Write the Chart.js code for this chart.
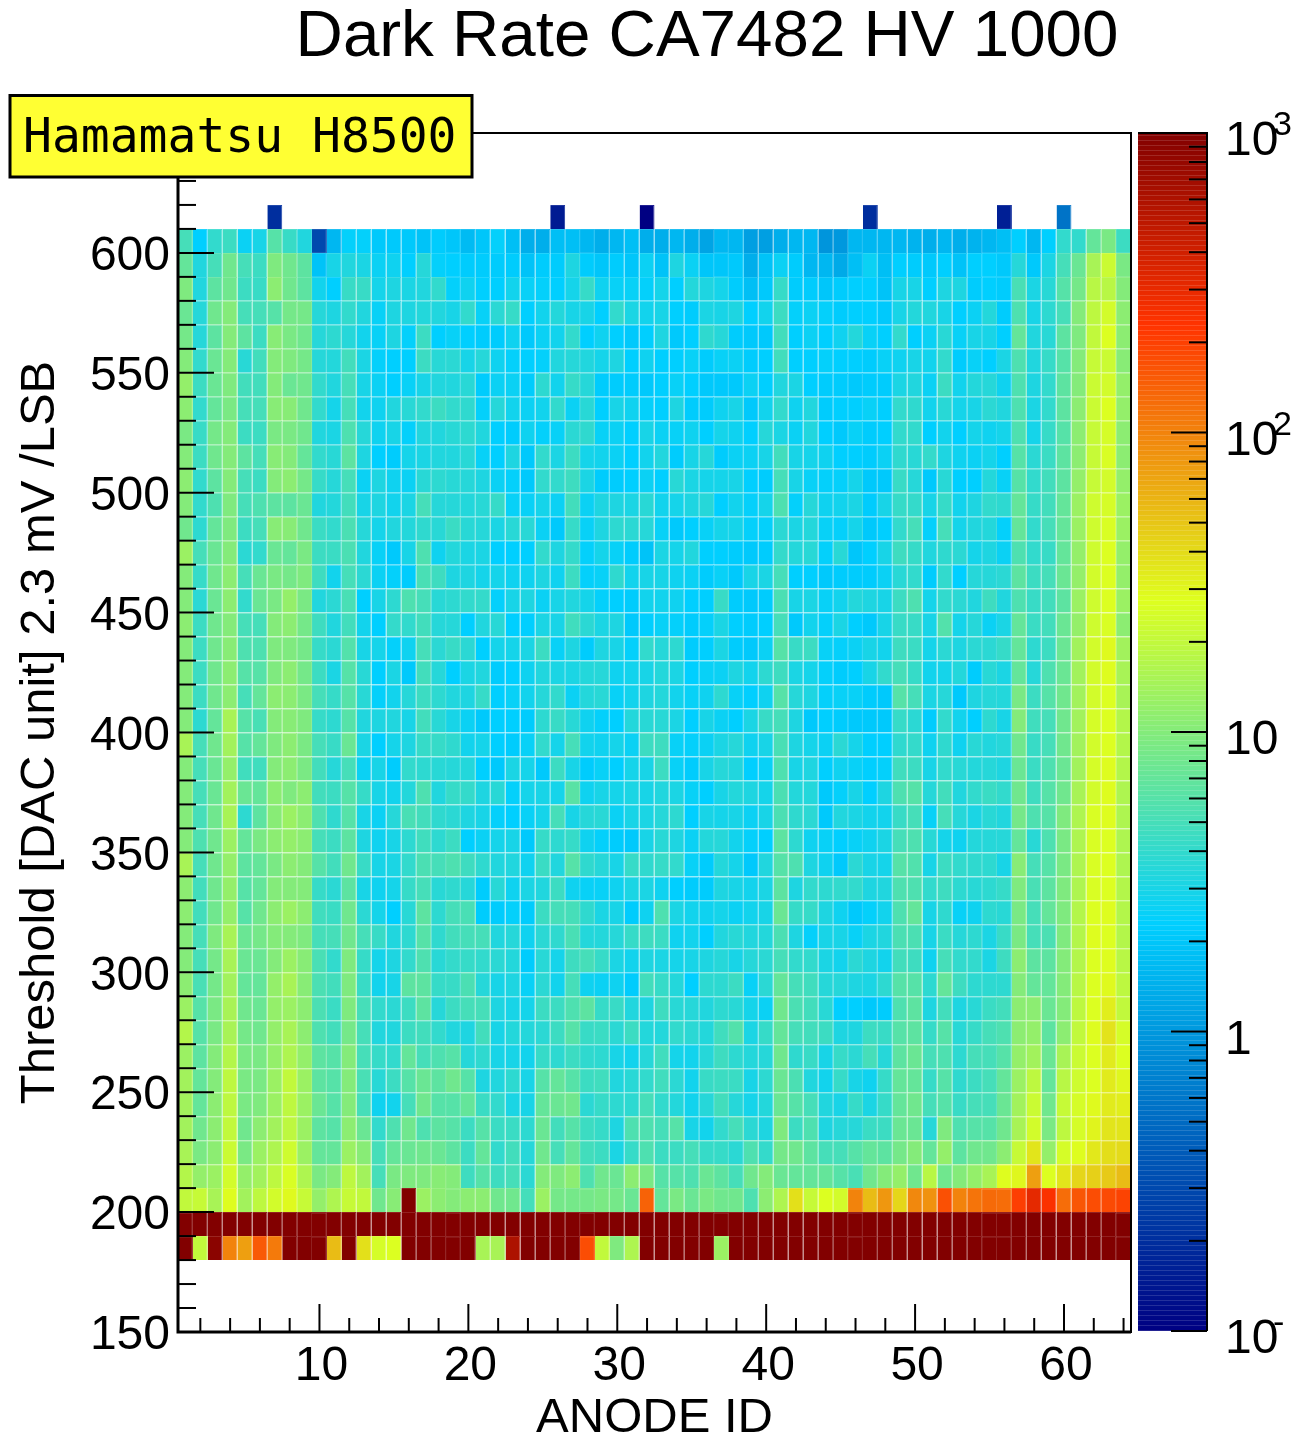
<!DOCTYPE html>
<html>
<head>
<meta charset="utf-8">
<title>Dark Rate CA7482 HV 1000</title>
<script src="https://cdn.jsdelivr.net/npm/chart.js@4"></script>
<style>
  html, body { margin: 0; padding: 0; background: #fff; }
  #wrap { position: relative; width: 1295px; height: 1438px; overflow: hidden; }
  canvas { position: absolute; top: 0; }
  #map { left: 0; }
  #palette { left: 1135px; }
</style>
</head>
<body>
<div id="wrap">
  <canvas id="map" width="1135" height="1438"></canvas>
  <canvas id="palette" width="160" height="1438"></canvas>
</div>
<script>
var chartTitle = "Dark Rate CA7482 HV 1000";
var boxLabel = "Hamamatsu H8500";
var xTitle = "ANODE ID";
var yTitle = "Threshold [DAC unit] 2.3 mV /LSB";
var anodeIds = [];
for (let i = 1; i <= 64; i++) anodeIds.push(i);

// rates, one list per threshold bin (left to right = anode 1..64)
var row610 = [null,null,null,null,null,null,.2,null,null,null,null,null,null,null,null,null,null,null,null,null,null,null,null,null,null,.15,null,null,null,null,null,.1,null,null,null,null,null,null,null,null,null,null,null,null,null,null,.2,null,null,null,null,null,null,null,null,.16,null,null,null,.57,null,null,null,null];
var row600 = [5,2.3,4,4.5,2.6,3,6,4.3,3.3,.3,1.6,2.4,2.4,2.1,2.1,2.1,1.9,2.2,2,1.7,2,2.4,1.8,1.4,1.4,1.8,1.8,1.6,1.4,1.6,1.8,1.4,1.4,1.6,1.4,1.2,1.6,1.6,1.1,1.1,1.4,1.6,1.6,.95,1,1.6,1.6,1.6,1.6,1.5,1.4,1.6,1.4,1.5,1.6,1.8,2.3,1.6,2.3,4,4,7,9,4.5];
var row590 = [7,3.3,5,8,5,4.5,9.5,8,6.5,1.9,3,3.3,3.1,2.6,2.7,2.3,3.5,2.4,2.3,2.2,2.2,2.2,2.2,1.9,2.2,2.2,3.2,2.2,2,2.2,2,2.6,1.9,3.2,2.6,2,2,2.1,1.4,1.9,2.6,2.2,1.6,1.6,1.3,1.8,2.6,1.8,2.3,2.2,2.1,2.3,1.9,2.3,2.3,2.1,3.5,2.1,3.1,5,7.5,15,22,9];
var row580 = [9.5,3.3,6.5,8,4.5,4.3,11,8,6.5,2.8,2.3,4.3,4.3,2.9,3.2,3.1,3.3,4,2.4,2.7,2.3,2.3,2.8,2.5,2.4,2.3,2.9,4.2,2.7,2.5,2.5,2.4,2.9,2.3,3.4,3.2,2.9,2.2,1.8,2.1,4.2,2.2,2.2,2,2.2,2.3,2.3,1.9,3,3,2.3,3.2,3.2,2.2,2.3,2.2,5.2,3.1,3.6,6,8.5,18,18,10];
var row570 = [7.5,3.5,8,10,5,5,6,8.5,8.5,3.5,3.2,4,3.3,2.5,3.2,3.2,3.4,3.3,3,4,2.5,3.7,4.2,2.3,2.8,3.4,3,3,2.3,4,3.1,2.8,3,2.3,2.2,3.1,3,3.2,2.3,2.8,4.5,2.4,2.6,2.4,2.2,2.3,2.3,2.1,3,3.4,3.3,3,2.3,2.6,3.4,2.2,5.5,3,3.8,5,10,19,24,11];
var row560 = [8.5,3.5,6.5,10,6.5,4.5,10.5,9,8,3.5,3.8,3.5,2.8,2.5,3.2,2.4,4.5,2.3,2.5,2.3,2.2,2.2,2.7,2.1,2.6,2.8,4,2.3,2.7,2.3,2.1,2.3,3.2,2.1,2.3,3.9,3.5,2.2,2.1,2.1,4.8,2.3,2.6,2.3,2.7,3.4,2.5,2.3,4,2.3,2.6,3.6,2.5,3,3,2.3,7,3.3,3.6,6.5,9.5,20,27,11];
var row550 = [10,4,7.5,10,3.6,4.8,10,9.5,8.5,3.5,3.4,4.8,3.1,2.4,2.3,2.3,4.5,3.6,3.7,3,3.5,2.7,2.4,2.3,2.4,3.3,3.5,3.3,2.9,3.2,2.3,2.7,2.3,2.3,2.5,2.2,2.5,2.6,2.2,2.3,4.8,2.3,2.3,2.4,2.3,2.3,2.2,2.5,2.7,3,2.8,4,2.2,2.5,2.3,3.1,5.5,3.3,4.2,6,10,21,22,10.5];
var row540 = [12,4.5,7.5,9.5,4.8,4.8,10,7.5,8,4,3.3,5,3,2.6,2.3,2.5,3,3.3,3.3,3.6,2.2,2.6,2.6,2.2,3.8,2.8,4.2,3.5,2.2,2.2,2.2,2.1,2.3,2.5,2.3,2.1,2.1,2.1,2.6,2.3,3.3,3.1,2.3,2.2,2.2,2.1,2.2,2.2,3.1,3.3,2.6,4.5,2.8,3.4,3.5,2.7,5.5,3.2,4,6.5,10,22,24,12];
var row530 = [11,4,7,9,5,5,10.5,10.5,8,4,2.9,5,2.8,2.7,3.3,3.6,4,4.5,4,3.9,2.4,3.5,2.8,2.6,2.8,4,2.6,3.6,2.3,3,2.7,2.4,2.3,3.2,2.2,2.2,2.7,3,2.1,2.8,4,2.7,3.3,2.2,2.3,2.3,2.5,2.3,4,3.9,2.8,3.6,2.9,3,3.7,3.3,5.5,3.1,4,6.5,11,22,27,12];
var row520 = [9,4.3,8.5,10,4.5,4.5,9,9,8,3.3,3.1,5.5,3.5,2.7,3,2.4,3.3,3.3,3.6,3.8,3.3,2.3,2.2,2.7,2.4,2.5,3.7,3.9,2.5,2.6,2.3,3,2.6,2.5,2.7,2.3,2.9,2.7,2.3,3.5,3.1,2.6,3.3,2.3,2.1,2.5,2.2,2.3,4,4,2.3,2.8,2.3,2.9,2.7,2.9,5.5,2.9,4.2,6,11,21,25,11];
var row510 = [10,4.5,8,10,6.5,5,10.5,10,7,4,3.6,6.5,3.2,2.3,2.2,2.9,3.1,3.3,3.3,3.6,2.5,2.3,3.2,2.1,4,3.1,4.5,2.9,2.8,2.6,2.3,2.8,3.3,2.2,3,3.5,2.2,2.6,2.6,3,4.8,3,2.9,2.7,2.3,2.3,2.2,2.6,3.9,3.6,4.1,3.2,2.7,2.6,2.9,2.3,6,3.7,4.4,6.5,11,21,26,11];
var row500 = [11,4,6.5,10,5,4.5,10,11,8.5,4.2,3.5,5,2.6,3.2,2.7,2.6,3.6,3.8,3.6,3.5,3.2,2.6,2.4,2.1,4,4,4.6,3.1,2.2,2.2,2.3,2.6,2.3,3.6,3.1,2.9,2.9,3,2.3,2.2,5,3,2.5,2.4,2.4,2.9,2.1,2.1,4.3,3.5,2.1,3.6,2.3,2.3,3.4,2.5,6,4,4.8,6.5,12,21,24,12];
var row490 = [10,4,5.5,9.5,5,5.5,6.5,6.5,7.5,3.3,3.4,4.8,3,3.2,2.8,3.1,5,3.5,3.5,3.4,3.6,4.2,2.5,2.5,2.9,2.6,4.8,2.6,3.2,3.2,3.1,3.6,2.8,2.9,3.2,3.5,2.3,2.8,2.4,2.9,5.5,2.4,3.5,2.7,2.8,3.1,2.2,3,4.2,4.1,3,4.2,2.8,3.2,4,3.8,7,4.2,4.8,7,13,23,25,13];
var row480 = [8,3.8,7,9.5,4.5,5,10.5,10.5,8,4.4,4,5.3,3.5,2.9,3.3,3.4,3.9,3.6,4.4,3.6,3.5,3.1,3.6,3.6,2.6,2.1,4.2,2.5,3.2,3.8,3.7,3.5,2.5,2.1,2.3,2.5,2.9,2.9,2.4,2.4,3.7,3.1,3.4,2.5,2.4,2.9,2.1,2.3,4,5,2.4,5,2.9,3.3,3.4,2.4,7,4,5,7,13,23,26,13];
var row470 = [13,5,7.5,10,3.7,4,7.5,7,9,4.5,4.4,5.3,3.3,2.5,2.1,3,5.5,2.7,3.4,3.1,3.1,2.3,2.3,2.3,4,3.2,4.1,2.4,2.9,2.5,2.2,1.9,3.1,2.9,3.3,2.3,2.3,2.2,2.1,2.2,4.1,3.4,3.6,2.4,3.6,2,2.3,3,4.6,4.2,3.3,3.9,3.7,2.9,3.2,2.6,5.5,4,4.3,7,12,23,27,12];
var row460 = [10,4.2,8,11,5,7.5,9,8.5,9.5,4.6,2.8,5,3.7,2.6,2.4,2.2,5.2,4.6,3.2,3.2,2.9,2.9,2.7,2.7,3.2,2.7,4.5,2.4,2.5,3.9,2.8,3,3,2.7,2.6,2.2,2.5,2.1,3,3.1,5,2.3,2.3,2.1,2.2,2.2,2.2,2.6,3.6,4,2.2,4,2.3,3.5,3.5,3.7,6.5,4.5,5,7.5,12,24,27,12];
var row450 = [10,3.7,7.5,11,4,7.5,9,12,9,3.3,3.7,5.2,2.3,3,3.8,5.5,5,3.6,3.8,4,4.1,2.4,3,3.2,2.6,3,3.3,2.9,2.4,2.3,2.2,2.8,2.8,2.7,2.3,2.3,4.3,2.2,2.1,2.2,5.3,3,3.1,2.5,2.8,3.4,3.2,3,4.5,5.5,2.9,4,3.7,3.3,4.6,3.3,5.5,4.3,4.8,6.5,13,23,27,13];
var row440 = [11,4.5,8,10,5,5,10,11,8.5,4.6,3.3,4.8,2.8,2.3,4.1,4,4.8,3.5,3.5,2.3,3.3,3.6,2.3,2.3,3.1,3,4.7,3.7,3.1,3.2,2.1,2.3,2.5,2.4,2.2,2.4,3.1,2.3,2.2,2.3,5,2.1,2.8,2.4,3.1,2.3,2.1,3,4.3,4.3,3,5.8,2.9,3.5,2.6,3.1,7,4.4,4.8,7.5,12,23,26,11];
var row430 = [10,4.5,8,10.5,5.5,5.5,9.5,9.5,8.5,4.2,3.7,5.8,3,2.9,2.4,2.7,5,3.7,4.3,3.7,2.3,2.9,2.9,3.1,4.5,2.5,3.2,2.2,3.2,3,2.4,4,3.5,3.8,2.2,2.3,3.1,2.2,2.1,2.6,6,4.3,4.5,2.5,2.4,2.6,3,2.8,4.6,4.4,2.9,3.7,3.2,3.7,3.7,4.2,7,3.8,4.5,7.5,14,24,29,14];
var row420 = [10,4.5,8,11,6,6,9.5,11,8.5,4.5,3.1,6,3.6,2.3,3.1,2.1,4.8,3.5,2.3,3.1,3.3,2.2,2.3,2.7,3.3,3.1,3.1,3.4,3.5,2.7,2.8,3,3.4,3.1,2.3,2.5,2.6,3.2,2.8,3.8,4.6,3.1,2.9,2.4,2.2,2.3,3,4,5,4.2,2.8,2.9,3.4,2.2,3.6,3.1,7,3.5,5.5,7.5,14,24,28,15];
var row410 = [10,4.5,8,11,5,7,11,11,9,5,4.2,6,3.6,2.4,2.8,3.5,4.5,3.8,3.3,3.2,4.2,2.3,2.5,2.8,3.5,4,2.6,3.4,3.6,2.5,2.8,3.2,3.4,2.8,2.5,2.7,3.8,2.5,2.3,2.7,6,3.5,3.2,2.4,2.5,2.5,2.2,2.1,6,5,3.1,3.5,2.1,3.2,3.5,3.4,9,4.5,6,8,14,24,27,15];
var row400 = [10,3.8,7,15,6,5.2,10,10.5,9.5,4.2,3.8,6,3.3,3.2,3.3,3,4.8,3.6,3,2.6,2.1,2.3,2.3,2.2,3.8,4.3,3.6,2.7,2.4,2.3,3.4,3.6,3.6,3.1,2.3,3,2.6,2.3,3.1,4.3,5,3.2,2.1,2.3,2.2,2.1,2.1,2.1,4.2,3.7,2.2,4,2.8,2.3,3.8,3,10,4.7,5,8,14,25,27,17];
var row390 = [15,5,8,14,6,7,9.5,11,9,5,4.3,7.5,3.1,2.3,2.9,3.2,4.2,4.2,3.9,2.8,2.9,2.3,2.2,2.5,4,2.9,5,2.8,2.7,2.9,2.6,4.5,4.6,2.5,2.4,2.6,3.1,3.5,2.7,3,5.2,3.2,2.9,2.6,3.7,2.9,2.3,2.3,3.9,4.1,2.7,3.9,2.7,3.6,3.3,3.5,8,4.3,5,8,14,24,27,17];
var row380 = [10,5,7.5,12,4.7,4.7,10,11,9,4.8,3.5,5,2.6,3,2.2,4,3.8,3.6,3.5,3.4,2.3,2.1,3.1,2.9,2.1,4.5,3,2.2,2.5,2.3,2.9,3,4.5,2.5,2.2,3,3.5,3.3,2.3,2.5,5.5,3,3.2,2.3,2.7,2.5,2.3,2.4,4.7,4.5,3,4,3.6,3.4,3.5,3.2,7.5,4.4,5.5,7.5,14,25,28,17];
var row370 = [10,5,7.5,14,7.5,7,11,9.5,11,4.8,4.5,6,4.2,3,2.8,3.4,5.5,3.3,4.2,4.1,3.2,3.6,2.4,2.9,3,2.9,6.2,2.7,3,2.9,3.1,3,3.3,3.1,2.5,2.3,3,3.4,3.2,2.9,5.3,3.4,3.4,2.1,2.4,3,2.3,3.2,5.5,6,3.5,4.8,3.3,4,4.4,4,8,4.6,6,8,15,24,28,16];
var row360 = [10,5,8,15,3.8,6.5,10.5,13,11,5.5,3.9,6,3,2.6,3.5,5.2,4.8,3.9,3.7,3.2,3,2.4,2.3,2.5,2.9,5,3,3.5,3.6,2.6,3,3.1,3.5,3.8,2.3,3,2.9,3,2.6,3,5.3,3.9,3.7,2.1,3.3,3.1,2.8,2.8,4.3,5,2.5,5,3.5,3.1,3.6,3.3,8.5,5.5,6,9.5,16,26,28,16];
var row350 = [10,5.5,8,13,7,9,11,12,11,5,4.5,6.5,3.2,2.7,3,3.8,4.7,3.8,4.5,2.3,2.6,2.9,3,2.1,4.2,3.8,4.2,2.7,2.4,2.2,2.1,3,3.6,3.2,2.6,3.4,3.5,2.8,2.4,2.3,6.5,3.8,2.7,2.5,2.3,2.5,2.7,3.1,5,5.5,3.6,2.9,2.7,3.4,3.5,3.5,7,3.6,5.5,9,16,26,27,16];
var row340 = [15,5,8,12,6.5,7,9,11,10,6,4.8,8,4.3,3,3.1,4,5.3,5,5.5,4.6,3.9,3.3,3.3,2.7,4.4,3.3,6,3.9,3.5,3,4.2,3.9,4.2,4,2.5,2.2,3.4,2.9,2.1,3.3,6,5.5,3.2,2.7,2.1,3.7,3,2.9,6,5.7,3,4.5,4,3.9,3.8,3,10.5,5,6,9,16,26,27,16];
var row330 = [11,4.8,8,12,6,7,10,10,10,4.2,3.7,6.5,3,2.7,2.9,4.2,5,3.6,3.9,3.5,2.2,3.6,2.7,3.1,3.3,4.5,2.7,2.5,2.5,2.7,3.1,3.1,2.7,2.3,2.2,2.2,3.2,3,2.8,3.1,6.5,3.2,4,3.8,4,4,3.2,3.3,5.5,5.5,4,4.6,3.8,3.6,3.8,4.2,9.5,5.2,6.5,9.5,16,26,27,17];
var row320 = [11,4.8,8,12,6,8,11,13,11,4.7,4.4,8,3.7,2.9,2.3,3.6,6.5,3.8,5,5.2,2.2,2.2,2.4,2.2,4.5,5,5,3.9,3.1,3,2.2,2.7,5.5,3.1,2.8,2.7,2.9,2.6,2.8,3,7.5,4.2,4.2,3.2,2.7,2.1,2.4,2.8,5.5,7,3,3.9,2.5,2.7,3.8,3.6,9,5,7,9.5,17,27,28,17];
var row310 = [10,5,9.5,15,7.5,8.5,10,10,9.5,5,5,8,5,4.3,3.3,3.8,6,3.9,4.8,5,5,3.3,3.5,2.7,3.7,3.9,5.2,3.4,3.4,3.5,4.2,4.6,4.4,2.7,2.8,2.3,3.3,3.6,3.3,3.4,5.3,3.2,2.4,3,3,2.5,3.1,3.3,5.3,5.3,3,4.4,3.5,3.8,3.1,4.3,9,5,5.3,9.5,17,28,27,17];
var row300 = [10,5,8.5,15,7.5,7.5,10,13,10.5,5.2,4,9.5,4.2,2.9,3.2,4,5.5,3.6,4.1,4.2,4,3.7,3.4,2.2,3.6,2.9,4.6,5,4.2,3.1,2.8,3.2,3.1,2.9,3,3.2,3.5,3,3.5,3.7,5,4,4,3.1,2.8,3.7,3.2,2.8,4.8,4.6,2.7,5,4,4,3.1,4.6,11,6.5,6.5,10,17,27,28,18];
var row290 = [11,5.2,8.5,14,7,7,12,15,10.5,5.3,4.8,9.5,4.3,2.8,3,6.5,6.5,4.2,4.3,5.3,3.5,3,3.2,2.5,3.7,2.8,5,2.7,2.6,2.7,2.2,4.8,4.2,3.4,2.3,3.8,3.8,4.5,2.5,3.7,7,5,4.7,3.5,3.5,3.2,3.1,3.8,6,6,3.8,7,4.6,3.8,3.8,3.8,10,7,7,10,18,27,29,19];
var row280 = [13,6,9,15,8,7.5,12,13,11,5.3,4.4,9.5,5,4,3.7,4.5,6.5,3.5,4.5,5,5,3.2,3,2.9,4.5,4.5,5.5,6.5,4.2,4.3,3.3,3.2,4.6,3.6,3.5,3.3,3.8,3.6,2.9,2.6,8,5.3,4.8,3.6,2.3,2.3,2.1,2.2,5.5,6.5,3.2,4.8,3.2,3.6,4.4,4.8,11,11,7.5,10,19,27,33,20];
var row270 = [17,6,9,15,8.5,8,12,15,11,5.5,4.8,8.5,5,3.3,3.3,4.5,4.8,4,3.3,3.2,4.8,3,3.4,3.4,3.7,4.5,6,4.3,4.4,3.7,4.5,3.4,3.4,4,3.7,3.4,4.7,5.8,3.1,4.2,7,5,4.8,4.5,3.2,3.2,4.5,4.3,6,6.5,4.2,6,3.6,4.2,5,5.5,11,12,6.5,11,20,28,37,25];
var row260 = [13,6.5,10,17,9,9,12,16,12,6.5,6,10,5,4.2,4,7,5,5.5,6,3.5,3.9,3,3,2.8,4.2,3.8,4.5,3.9,3.8,3,2.8,3.5,4.7,2.9,2.8,3.5,4.6,3.8,3.4,3.5,8,3.9,4.3,3,4.2,3.7,5,3.5,6.5,7.5,5,5.5,3.8,5,5,6,12,14,7.5,15,22,27,34,27];
var row250 = [14,7,10,19,9,9,13,20,13,6.5,6,10,5.2,3.6,4.5,6,7.5,6.5,8,6,3.2,3.3,3.8,3,6,7,6,4.5,4.7,3.3,3.6,4,4.7,3.7,2.8,4.3,4.5,4.4,3,3.8,7.5,5.3,3.3,2.8,4.2,3,2.7,4.2,7,7,4.2,6,3.9,4.5,5,7,13,19,7,18,23,27,34,30];
var row240 = [14,7,11,19,9,9.5,13,19,13,7.5,6,10,5,2.7,2.8,5,8,6,6,7,4.4,4,3.1,3,7,7.5,8,3.7,4.2,3.8,3.8,5,4,3.4,2.8,3.5,4.8,3.5,2.9,3.4,7.5,6,5,3.3,3,4.2,3.1,4.2,7,8,5,6,4.3,5,5,7.5,14,22,8,21,25,29,34,33];
var row230 = [14,8,11,20,8,11,14,19,13,6.5,6,11,7.5,4,5.5,8,5.5,6.5,6,4.5,6,4.4,4.4,3.8,7.5,4.8,6,4.5,4.2,3.2,5.5,5.5,5,6,3,2.8,4,5,3.7,3.2,9.5,4.5,5.5,3.2,3.5,3.5,4.4,4.5,7.5,7.5,3.5,9.5,5.5,6,6,8,15,24,9,19,25,31,36,36];
var row220 = [15,9,11,22,9,13,16,23,13,7,7,13,10.5,5,7,7.5,8,7.5,6.5,4.5,7,4,4.8,3.5,8,5,7,4.8,4.5,3.1,4.2,5.5,4.5,4.5,5,4.2,4.2,3.7,5.5,4.1,8.5,8,6.5,5,5,6,7,6.5,8.5,10,7,12,6.5,8,8,11,21,36,12,25,28,35,39,40];
var row210 = [17,12,13,24,12,14,19,26,16,9,10,19,14,5,9,9.5,9.5,10.5,10,4.6,6,4.6,5,3.7,10,9.5,11,5.5,8,7.5,11,9,6,6,5.5,7.5,6.5,5,8,10,7.5,7,7,7,6,5.2,8,10,12,8,18,8,10,12,15,28,30,75,27,36,42,45,48,55];
var row200 = [20,21,15,28,14,19,24,29,21,12,16,21,20,8,10.5,1000,13,11,10,11,11,8,8,4.9,13,8.5,8.5,8.5,9,8.5,7.5,140,7,9,7.5,9,8,8,5.5,11,16,38,21,27,24,100,55,81,42,95,85,170,100,117,130,125,205,310,240,125,160,175,180,195];
var row190 = [1000,1000,1000,1000,1000,1000,1000,1000,1000,1000,1000,1000,1000,1000,1000,1000,1000,1000,1000,1000,1000,1000,1000,1000,1000,1000,1000,1000,1000,1000,1000,1000,1000,1000,1000,1000,1000,1000,1000,1000,1000,1000,1000,1000,1000,1000,1000,1000,1000,1000,1000,1000,1000,1000,1000,1000,1000,1000,1000,1000,1000,1000,1000,1000];
var row180 = [1000,20,900,100,75,155,110,1000,1000,1000,55,1000,38,25,27,1000,1000,1000,1000,1000,15,15,600,1000,1000,1000,1000,175,20,9.5,16,1000,1000,1000,1000,1000,13,1000,1000,1000,1000,1000,1000,1000,1000,1000,1000,1000,1000,1000,1000,1000,1000,1000,1000,1000,1000,1000,1000,1000,1000,1000,1000,1000];

var thresholds = [180,190,200,210,220,230,240,250,260,270,280,290,300,310,320,330,340,350,360,370,380,390,400,410,420,430,440,450,460,470,480,490,500,510,520,530,540,550,560,570,580,590,600,610];
var rateRows = [row180,row190,row200,row210,row220,row230,row240,row250,row260,row270,row280,row290,row300,row310,row320,row330,row340,row350,row360,row370,row380,row390,row400,row410,row420,row430,row440,row450,row460,row470,row480,row490,row500,row510,row520,row530,row540,row550,row560,row570,row580,row590,row600,row610];

var yLabelTicks = [150,200,250,300,350,400,450,500,550,600];
var paletteTicks = [0.1,0.2,0.3,0.4,0.5,0.6,0.7,0.8,0.9,1,2,3,4,5,6,7,8,9,10,20,30,40,50,60,70,80,90,100,200,300,400,500,600,700,800,900,1000];
var paletteLabels = [["10","3",1000],["10","2",100],["10","",10],["1","",1],["10","-",0.1]];

// ROOT rainbow palette: position on log axis, r, g, b
var paletteStops = [0,0.34,0.61,0.84,1];
var paletteRed = [0,0,222,255,130];
var paletteGreen = [0,207,255,51,0];
var paletteBlue = [130,255,31,0,0];

function rateColor(rate) {
  let p = (Math.log10(rate) + 1) / 4;
  p = Math.min(1, Math.max(0, p));
  let i = 0;
  while (i < paletteStops.length - 2 && p > paletteStops[i + 1]) i++;
  let t = (p - paletteStops[i]) / (paletteStops[i + 1] - paletteStops[i]);
  return [paletteRed, paletteGreen, paletteBlue].map((c) =>
    Math.round(c[i] + (c[i + 1] - c[i]) * t)
  );
}

function css(rgb) {
  return "rgb(" + rgb.join(",") + ")";
}

function seam(rgb) {
  return css(rgb.map((c) => Math.round(c + (255 - c) * 0.13)));
}

var sans = "'Liberation Sans', Arial, sans-serif";

var mapDatasets = rateRows.map((rates, r) => ({
  label: "threshold " + thresholds[r],
  data: rates.map((v) => (v === null ? null : [thresholds[r], thresholds[r] + 10])),
  backgroundColor: rates.map((v) => (v === null ? "transparent" : css(rateColor(v)))),
  borderColor: rates.map((v) => (v === null ? "transparent" : seam(rateColor(v)))),
  borderWidth: { top: 1, right: 1, bottom: 0, left: 0 },
  borderSkipped: false,
  inflateAmount: 0,
  categoryPercentage: 1,
  barPercentage: 1,
  grouped: false,
}));

// long and short tick marks point inwards, frame and yellow box go on top
var mapDecor = {
  id: "mapDecor",
  afterDatasetsDraw(chart) {
    let c = chart.ctx;
    let a = chart.chartArea;
    let x = chart.scales.x;
    let y = chart.scales.y;
    c.save();
    c.strokeStyle = "#000";
    c.lineWidth = 2;
    for (let v = 150; v <= 650; v += 10) {
      let py = y.getPixelForValue(v);
      c.beginPath();
      c.moveTo(a.left, py);
      c.lineTo(a.left + (v % 50 === 0 ? 36 : 18), py);
      c.stroke();
    }
    anodeIds.forEach((id, i) => {
      if (id % 2) return;
      let px = x.getPixelForValue(i);
      c.beginPath();
      c.moveTo(px, a.bottom);
      c.lineTo(px, a.bottom - (id % 10 === 0 ? 28 : 14));
      c.stroke();
    });
    c.strokeRect(a.left, a.top, a.right - a.left, a.bottom - a.top);
    c.lineWidth = 3;
    c.beginPath();
    c.moveTo(a.left, a.top);
    c.lineTo(a.left, a.bottom);
    c.lineTo(a.right, a.bottom);
    c.stroke();

    c.fillStyle = "#ffff33";
    c.fillRect(10, 95.5, 462, 81.5);
    c.strokeRect(10, 95.5, 462, 81.5);
    c.fillStyle = "#000";
    c.textBaseline = "alphabetic";
    c.textAlign = "left";
    c.font = "48px 'DejaVu Sans Mono', monospace";
    c.fillText(boxLabel, 23, 152);
    c.font = "65.5px " + sans;
    c.textAlign = "center";
    c.fillText(chartTitle, 707, 56);
    c.restore();
  },
};

new Chart(document.getElementById("map"), {
  type: "bar",
  data: { labels: anodeIds, datasets: mapDatasets },
  plugins: [mapDecor],
  options: {
    responsive: false,
    animation: false,
    layout: { padding: { top: 133, right: 4, left: 0, bottom: 0 } },
    plugins: { legend: { display: false }, tooltip: { enabled: false } },
    scales: {
      x: {
        type: "category",
        grid: { display: false, drawTicks: false },
        border: { display: false },
        afterFit(s) {
          s.height = 106;
        },
        ticks: {
          autoSkip: false,
          maxRotation: 0,
          padding: 6,
          labelOffset: 2,
          color: "#000",
          font: { family: sans, size: 48 },
          callback(v) {
            let id = this.getLabelForValue(v);
            return id % 10 === 0 ? String(id) : "";
          },
        },
        title: {
          display: true,
          text: xTitle,
          color: "#000",
          font: { family: sans, size: 49, lineHeight: 1 },
          padding: { top: 0, bottom: -5 },
        },
      },
      y: {
        min: 150,
        max: 650,
        grid: { display: false, drawTicks: false },
        border: { display: false },
        afterFit(s) {
          s.width = 178;
        },
        afterBuildTicks(s) {
          s.ticks = yLabelTicks.map((v) => ({ value: v }));
        },
        ticks: {
          autoSkip: false,
          padding: 8,
          labelOffset: 4,
          color: "#000",
          font: { family: sans, size: 48 },
        },
        title: {
          display: true,
          text: yTitle,
          color: "#000",
          font: { family: sans, size: 49, lineHeight: 1 },
          padding: { top: 16, bottom: 0 },
        },
      },
    },
  },
});

var paletteDecor = {
  id: "paletteDecor",
  afterDatasetsDraw(chart) {
    let c = chart.ctx;
    let a = chart.chartArea;
    let y = chart.scales.y;
    c.save();
    c.strokeStyle = "rgba(255,255,255,0.14)";
    c.lineWidth = 1;
    for (let py = a.top + 2; py < a.bottom; py += 5) {
      c.beginPath();
      c.moveTo(a.left, py + 0.5);
      c.lineTo(a.right, py + 0.5);
      c.stroke();
    }
    c.strokeStyle = "#000";
    c.lineWidth = 2;
    paletteTicks.forEach((v) => {
      let py = y.getPixelForValue(v);
      let major = Math.abs(Math.log10(v) % 1) < 1e-9;
      c.beginPath();
      c.moveTo(a.right, py);
      c.lineTo(a.right - (major ? 36 : 18), py);
      c.stroke();
    });
    c.beginPath();
    c.moveTo(a.left, a.top);
    c.lineTo(a.right, a.top);
    c.lineTo(a.right, a.bottom);
    c.stroke();
    c.fillStyle = "#000";
    c.textAlign = "left";
    c.textBaseline = "alphabetic";
    paletteLabels.forEach((l) => {
      let py = y.getPixelForValue(l[2]);
      c.font = "48px " + sans;
      c.fillText(l[0], 90, py + 22);
      if (l[1]) {
        c.font = "34px " + sans;
        c.fillText(l[1], 138, py + 2);
      }
    });
    c.restore();
  },
};

function paletteFill(ctx) {
  let a = ctx.chart.chartArea;
  if (!a) return "#000";
  let g = ctx.chart.ctx.createLinearGradient(0, a.bottom, 0, a.top);
  paletteStops.forEach((s, i) => {
    g.addColorStop(s, css([paletteRed[i], paletteGreen[i], paletteBlue[i]]));
  });
  return g;
}

new Chart(document.getElementById("palette"), {
  type: "bar",
  data: {
    labels: ["rate"],
    datasets: [
      {
        data: [[0.1, 1000]],
        backgroundColor: paletteFill,
        borderWidth: 0,
        inflateAmount: 0,
        categoryPercentage: 1,
        barPercentage: 1,
      },
    ],
  },
  plugins: [paletteDecor],
  options: {
    responsive: false,
    animation: false,
    layout: { padding: { top: 133, right: 88, left: 3, bottom: 107 } },
    plugins: { legend: { display: false }, tooltip: { enabled: false } },
    scales: {
      x: { display: false },
      y: { type: "logarithmic", min: 0.1, max: 1000, display: false },
    },
  },
});
</script>
</body>
</html>
